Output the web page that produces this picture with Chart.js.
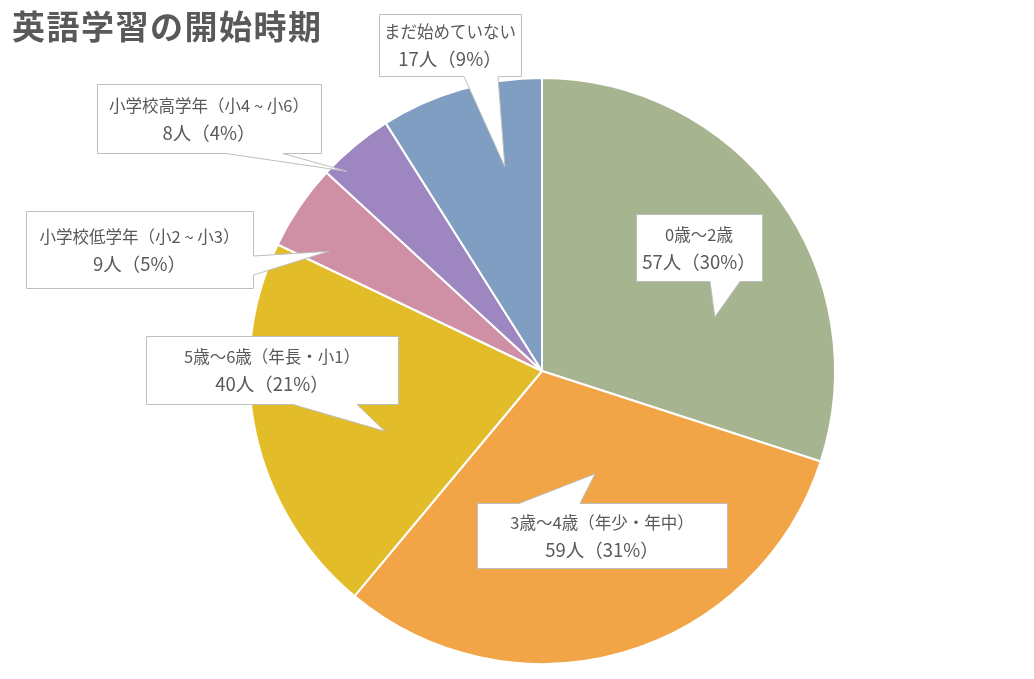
<!DOCTYPE html>
<html lang="ja">
<head>
<meta charset="utf-8">
<script src="https://cdn.jsdelivr.net/npm/chart.js@4/dist/chart.umd.min.js"></script>
<style>
  html, body { margin: 0; padding: 0; background: #ffffff; }
  #wrap { position: relative; width: 1034px; height: 679px; }
  #title {
    position: absolute; left: 12px; top: 5px; margin: 0;
    font-family: "Noto Sans CJK JP", sans-serif; font-weight: 700;
    font-size: 33px; line-height: 40px; letter-spacing: 1.5px; color: #595959;
  }
</style>
</head>
<body>
<div id="wrap">
  <canvas id="c" width="1034" height="679"></canvas>
  <h1 id="title">英語学習の開始時期</h1>
</div>
<script>
// ---- data ----
const categories = [
  "0歳〜2歳",
  "3歳〜4歳（年少・年中）",
  "5歳〜6歳（年長・小1）",
  "小学校低学年（小2 ~ 小3）",
  "小学校高学年（小4 ~ 小6）",
  "まだ始めていない"
];
const counts = [57, 59, 40, 9, 8, 17];
const unitLabel = "人";

// ---- styles ----
const sliceColors = ["#A7B490", "#F2A546", "#E3BC2A", "#CF90A6", "#9E87C1", "#7F9EC2"];
const textColor = "#595959";
const fontFamily = '"Noto Sans CJK JP", "Noto Sans", sans-serif';

// callout layout: box [x, y, w, h], tail side, tail base along side, tip (fraction along slice angle, fraction of radius)
const calloutLayout = [
  { box: [636, 214, 126, 67], side: "bottom", base: [710, 740], tip: [0.673, 0.618] },
  { box: [477, 503, 250, 65], side: "top",    base: [519, 580], tip: [0.40, 0.395] },
  { box: [146, 336, 252, 68], side: "bottom", base: [293, 357], tip: [0.385, 0.574] },
  { box: [26, 211, 227, 77],  side: "right",  base: [256, 275], tip: [0.22, 0.834] },
  { box: [97, 84, 224, 69],   side: "bottom", base: [226, 283], tip: [0.20, 0.953] },
  { box: [379, 14, 142, 62],  side: "bottom", base: [464, 498], tip: [0.68, 0.708] }
];

const total = counts.reduce((a, b) => a + b, 0);

function calloutPath(ctx, x, y, w, h, side, base, tip) {
  const [a, b] = base;
  ctx.beginPath();
  ctx.moveTo(x, y);
  if (side === "top") { ctx.lineTo(Math.min(a,b), y); ctx.lineTo(tip.x, tip.y); ctx.lineTo(Math.max(a,b), y); }
  ctx.lineTo(x + w, y);
  if (side === "right") { ctx.lineTo(x + w, Math.min(a,b)); ctx.lineTo(tip.x, tip.y); ctx.lineTo(x + w, Math.max(a,b)); }
  ctx.lineTo(x + w, y + h);
  if (side === "bottom") { ctx.lineTo(Math.max(a,b), y + h); ctx.lineTo(tip.x, tip.y); ctx.lineTo(Math.min(a,b), y + h); }
  ctx.lineTo(x, y + h);
  if (side === "left") { ctx.lineTo(x, Math.max(a,b)); ctx.lineTo(tip.x, tip.y); ctx.lineTo(x, Math.min(a,b)); }
  ctx.closePath();
}

const calloutPlugin = {
  id: "callouts",
  afterDatasetsDraw(chart) {
    const ctx = chart.ctx;
    const meta = chart.getDatasetMeta(0);
    meta.data.forEach((arc, i) => {
      const L = calloutLayout[i];
      if (!L) return;
      const p = arc.getProps(["x", "y", "startAngle", "endAngle", "outerRadius"], true);
      const ang = p.startAngle + L.tip[0] * (p.endAngle - p.startAngle);
      const r = L.tip[1] * p.outerRadius;
      const tip = { x: p.x + r * Math.cos(ang), y: p.y + r * Math.sin(ang) };
      const [x, y, w, h] = L.box;
      ctx.save();
      calloutPath(ctx, x + 0.5, y + 0.5, w, h, L.side, L.base, tip);
      ctx.fillStyle = "#ffffff";
      ctx.fill();
      ctx.strokeStyle = "#BFBFBF";
      ctx.lineWidth = 1;
      ctx.stroke();
      const cx = x + w / 2, cy = y + h / 2;
      const pct = Math.round(counts[i] / total * 100);
      ctx.fillStyle = textColor;
      ctx.textAlign = "center";
      ctx.textBaseline = "middle";
      ctx.font = "16.5px " + fontFamily;
      ctx.fillText(categories[i], cx, cy - 13);
      ctx.font = "18.5px " + fontFamily;
      ctx.fillText(counts[i] + unitLabel + "（" + pct + "%）", cx, cy + 14);
      ctx.restore();
    });
  }
};

new Chart(document.getElementById("c"), {
  type: "pie",
  data: {
    labels: categories,
    datasets: [{
      data: counts,
      backgroundColor: sliceColors,
      borderColor: "#ffffff",
      borderWidth: 2
    }]
  },
  options: {
    responsive: false,
    animation: false,
    layout: { padding: { top: 77, bottom: 14, left: 248, right: 198 } },
    plugins: {
      legend: { display: false },
      tooltip: { enabled: false },
      title: { display: false }
    }
  },
  plugins: [calloutPlugin]
});
</script>
</body>
</html>
